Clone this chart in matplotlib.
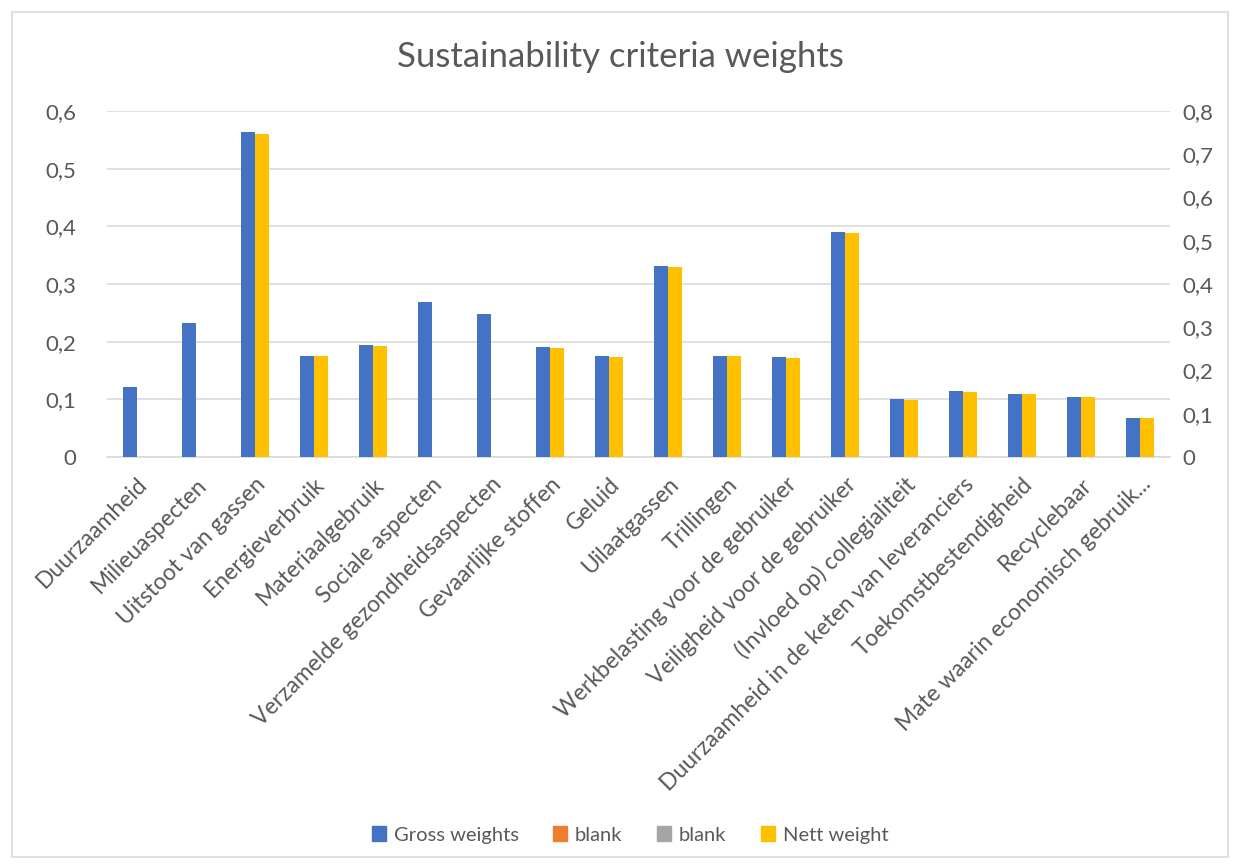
import matplotlib.pyplot as plt
import numpy as np
from matplotlib.patches import Rectangle, Patch
from matplotlib.ticker import FuncFormatter, MultipleLocator

categories = ['Duurzaamheid', 'Milieuaspecten', 'Uitstoot van gassen', 'Energieverbruik',
              'Materiaalgebruik', 'Sociale aspecten', 'Verzamelde gezondheidsaspecten',
              'Gevaarlijke stoffen', 'Geluid', 'Uilaatgassen', 'Trillingen',
              'Werkbelasting voor de gebruiker', 'Veiligheid voor de gebruiker',
              '(Invloed op) collegialiteit', 'Duurzaamheid in de keten van leveranciers',
              'Toekomstbestendigheid', 'Recyclebaar', 'Mate waarin economisch gebruik...']

# primary axis
gross = [0.121, 0.2325, 0.5637, 0.176, 0.1945, 0.2683, 0.2487, 0.1904, 0.1743, 0.3318,
         0.1754, 0.1731, 0.3907, 0.0998, 0.1137, 0.1096, 0.1044, 0.0681]
# secondary axis (0 = no value)
nett = [0, 0, 0.746, 0.2331, 0.2562, 0, 0, 0.2524, 0.2308, 0.4393,
        0.2324, 0.2293, 0.517, 0.1316, 0.150, 0.1454, 0.1393, 0.0908]

BLUE = '#4472C4'
ORANGE = '#ED7D31'
GREY = '#A5A5A5'
GOLD = '#FFC000'
TXT = '#595959'
GRID = '#D9D9D9'

plt.rcParams['font.family'] = ['Lato', 'DejaVu Sans']

fig = plt.figure(figsize=(12.41, 8.67), dpi=100)
fig.patches.append(Rectangle((12 / 1241, 1 - 857 / 867), 1216 / 1241, 845 / 867,
                             transform=fig.transFigure, fill=False,
                             edgecolor=GRID, linewidth=1.2))

ax = fig.add_axes([107 / 1241, 1 - 457 / 867, 1063 / 1241, 346 / 867])
ax2 = ax.twinx()

x = np.arange(len(categories))
w = 0.237
ax.bar(x - w / 2, gross, w, color=BLUE, zorder=3)
ax2.bar(x + w / 2, nett, w, color=GOLD, zorder=3)

ax.set_xlim(-0.5, len(categories) - 0.5)
ax.set_ylim(0, 0.6)
ax2.set_ylim(0, 0.8)
ax.yaxis.set_major_locator(MultipleLocator(0.1))
ax2.yaxis.set_major_locator(MultipleLocator(0.1))

fmt = FuncFormatter(lambda v, p: '0' if abs(v) < 1e-9 else ('%.1f' % v).replace('.', ','))
ax.yaxis.set_major_formatter(fmt)
ax2.yaxis.set_major_formatter(fmt)

ax.grid(axis='y', color=GRID, linewidth=1.2, zorder=0)
ax.set_axisbelow(True)
for a in (ax, ax2):
    for s in a.spines.values():
        s.set_visible(False)
    a.tick_params(length=0, labelsize=16, labelcolor=TXT)
ax.spines['bottom'].set_visible(True)
ax.spines['bottom'].set_color(GRID)
ax.spines['bottom'].set_linewidth(1.2)
ax.tick_params(axis='y', pad=22)
ax2.tick_params(axis='y', pad=9)

ax.set_xticks(x)
ax.set_xticklabels(categories, rotation=45, ha='right', rotation_mode='anchor', fontsize=16.5)
ax.tick_params(axis='x', pad=12)

fig.text(0.5, 1 - 57 / 867, 'Sustainability criteria weights', ha='center', va='center',
         fontsize=25, color=TXT)

handles = [Patch(color=BLUE), Patch(color=ORANGE), Patch(color=GREY), Patch(color=GOLD)]
labels = ['Gross weights', 'blank', 'blank', 'Nett weight']
fig.legend(handles, labels, loc='center', bbox_to_anchor=(630 / 1241, 1 - 835 / 867),
           ncol=4, frameon=False, fontsize=14.5, labelcolor=TXT, handlelength=0.7,
           handleheight=0.7, handletextpad=0.4, columnspacing=1.7)

plt.savefig('out.png', dpi=100)
